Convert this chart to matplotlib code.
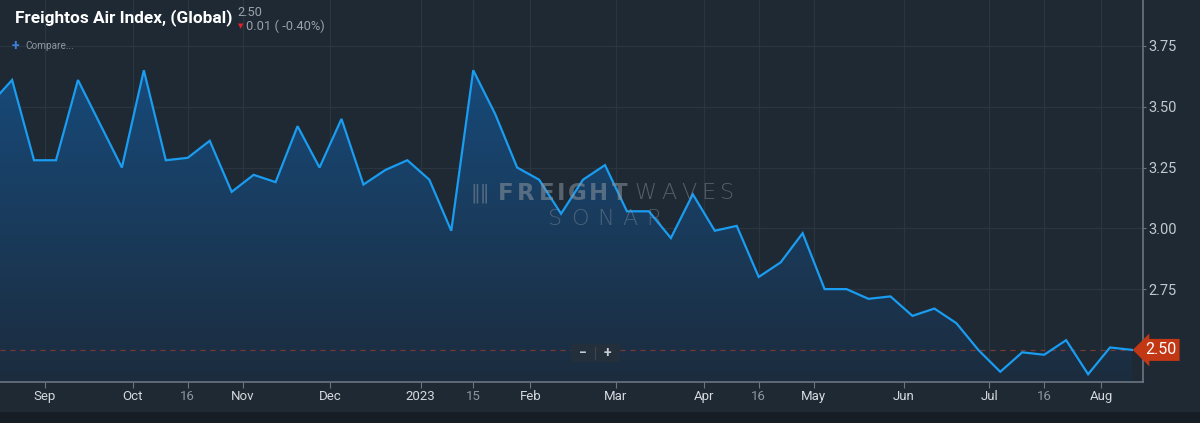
import matplotlib
matplotlib.use('Agg')
import matplotlib.pyplot as plt
import matplotlib.transforms as mtransforms
from matplotlib.patches import FancyBboxPatch
import numpy as np

## weekly Freightos Air Index (Global), Sundays from mid Aug 2022 to mid Aug 2023
values = [3.51, 3.61, 3.28, 3.28, 3.61, 3.43, 3.25, 3.65, 3.28, 3.29,
          3.36, 3.15, 3.22, 3.19, 3.42, 3.25, 3.45, 3.18, 3.24, 3.28,
          3.20, 2.99, 3.65, 3.47, 3.25, 3.20, 3.06, 3.20, 3.26, 3.07,
          3.07, 2.96, 3.14, 2.99, 3.01, 2.80, 2.86, 2.98, 2.75, 2.75,
          2.71, 2.72, 2.64, 2.67, 2.61, 2.50, 2.41, 2.49, 2.48, 2.54,
          2.40, 2.51, 2.50]
week = np.arange(len(values)) - 1   # first value is the week before the visible window

## x tick labels (week index where the label sits) and y ticks
xtick_pos = [1.5, 5.5, 8.0, 10.5, 14.5, 18.6, 21.0, 23.6, 27.5, 31.5, 34.0, 36.5, 40.6, 44.5, 47.0, 49.6]
xtick_lab = ['Sep', 'Oct', '16', 'Nov', 'Dec', '2023', '15', 'Feb', 'Mar', 'Apr', '16', 'May', 'Jun', 'Jul', '16', 'Aug']
ytick_vals = [2.75, 3.00, 3.25, 3.50, 3.75]
last_value = 2.50
change = 0.01
change_pct = -0.40

bg = '#1e2934'
line_col = '#1a9cf0'
grid_col = '#29353f'

plt.rcParams['font.family'] = ['Roboto', 'DejaVu Sans']

fig = plt.figure(figsize=(12, 4.23), dpi=100, facecolor=bg)
ax = fig.add_axes([0, 41 / 423, 1143 / 1200, 382 / 423])
ax.set_facecolor(bg)

ax.set_xlim(-0.55, 51.5)
ax.set_ylim(2.368, 3.939)

## gradient fill under the line
fill = ax.fill_between(week, values, 2.368, color='none', lw=0)
grad = np.linspace(0, 1, 256).reshape(-1, 1)
top_c = np.array([23, 74, 122]) / 255
bot_c = np.array([28, 44, 62]) / 255
img = top_c * (1 - grad[..., None]) + bot_c * grad[..., None]
img = img.reshape(256, 1, 3)
im = ax.imshow(img, extent=[-0.55, 51.5, 2.368, 3.66], aspect='auto', origin='upper', zorder=1)
path = fill.get_paths()[0]
im.set_clip_path(path, transform=ax.transData)

ax.plot(week, values, color=line_col, lw=1.6, zorder=3, solid_joinstyle='miter')

## last price dashed line
ax.axhline(last_value, color='#7a3a34', lw=0.9, ls=(0, (4, 4)), zorder=2)

## grid
for xp in xtick_pos:
    ax.axvline(xp, color=grid_col, lw=0.9, zorder=0.5)
for yv in ytick_vals:
    ax.axhline(yv, color=grid_col, lw=0.9, zorder=0.5)

## axes styling
for s in ['top', 'left']:
    ax.spines[s].set_visible(False)
ax.spines['right'].set_color('#6b7480')
ax.spines['bottom'].set_color('#6b7480')
ax.spines['right'].set_linewidth(1.2)
ax.spines['bottom'].set_linewidth(1.2)
ax.yaxis.tick_right()
ax.set_yticks(ytick_vals)
ax.set_yticklabels(['%.2f' % v for v in ytick_vals])
ax.tick_params(axis='y', colors='#6b7480', labelcolor='#c3c8ce', labelsize=10.5, length=2, pad=2)
ax.set_xticks(xtick_pos)
ax.set_xticklabels(xtick_lab)
ax.tick_params(axis='x', colors='#6b7480', labelsize=9.5, length=4, pad=2)
for t in ax.get_xticklabels():
    t.set_color('#8e969f' if len(t.get_text()) == 2 else '#d5d9dd')

## price label on right axis
trans = mtransforms.blended_transform_factory(ax.transAxes, ax.transData)
ax.text(1.0016, last_value, '%.2f' % last_value, transform=trans, ha='left', va='center',
        color='white', fontsize=11.5, zorder=10, clip_on=False,
        bbox=dict(boxstyle='larrow,pad=0.22', fc='#c23714', ec='none'))

## bottom dark band
fig.patches.append(plt.Rectangle((0, 0), 1, 11 / 423, transform=fig.transFigure, fc='#161d24', ec='none'))

## header
fig.text(15 / 1200, 1 - 18 / 423, 'Freightos Air Index, (Global)', color='white', fontsize=12.4,
         fontweight='bold', va='center', ha='left')
fig.text(237 / 1200, 1 - 13 / 423, '%.2f' % last_value, color='#9aa2ab', fontsize=9.3, va='center')
fig.text(238 / 1200, 1 - 26 / 423, '\u25bc', color='#e0202a', fontsize=5, va='center', family=['DejaVu Sans'])
fig.text(246 / 1200, 1 - 26 / 423, '%.2f ( %.2f%%)' % (change, change_pct), color='#9aa2ab',
         fontsize=9.3, va='center')
fig.text(12 / 1200, 1 - 46 / 423, '+', color='#3b82e0', fontsize=10, va='center', fontweight='bold')
fig.text(25 / 1200, 1 - 46 / 423, 'Compare...', color='#8e969f', fontsize=7.2, va='center')

## watermark, letters spread across the logo width
wm = '#8a949e'


def spread(word, x0, x1, yc, size, weight, alpha, widths):
    tot = sum(widths)
    x = x0
    for ch, w in zip(word, widths):
        cx = x + (x1 - x0) * w / tot / 2
        fig.text(cx / 1200, 1 - yc / 423, ch, color=wm, alpha=alpha, fontsize=size,
                 fontweight=weight, ha='center', va='center', family=['DejaVu Sans'])
        x += (x1 - x0) * w / tot


fig.text(480 / 1200, 1 - 193 / 423, '\u2016\u2016', color=wm, alpha=0.5, fontsize=14,
         va='center', ha='center', family=['DejaVu Sans'])
spread('FREIGHT', 496, 629, 193, 16.5, 'heavy', 0.55, [1, 1.1, 1, 0.5, 1.15, 1.1, 1])
spread('WAVES', 632, 736, 193, 16, 'light', 0.5, [1.45, 1.05, 1.05, 1, 0.95])
spread('SONAR', 543, 666, 219, 16, 'light', 0.45, [1, 1.1, 1.05, 1.05, 1])

## zoom buttons
fig.patches.append(FancyBboxPatch((571 / 1200, 1 - 362 / 423), 49 / 1200, 18 / 423,
                                  boxstyle='round,pad=0,rounding_size=0.004', transform=fig.transFigure,
                                  fc='#24303a', ec='none', alpha=0.95))
fig.add_artist(plt.Line2D([595 / 1200, 595 / 1200], [1 - 359 / 423, 1 - 347 / 423],
                          transform=fig.transFigure, color='#3c4650', lw=0.8))
fig.text(583 / 1200, 1 - 353 / 423, '\u2212', color='#c8ccd0', fontsize=10, ha='center', va='center', fontweight='bold')
fig.text(607 / 1200, 1 - 353 / 423, '+', color='#c8ccd0', fontsize=10, ha='center', va='center', fontweight='bold')

fig.savefig('out.png', dpi=100, facecolor=bg)
